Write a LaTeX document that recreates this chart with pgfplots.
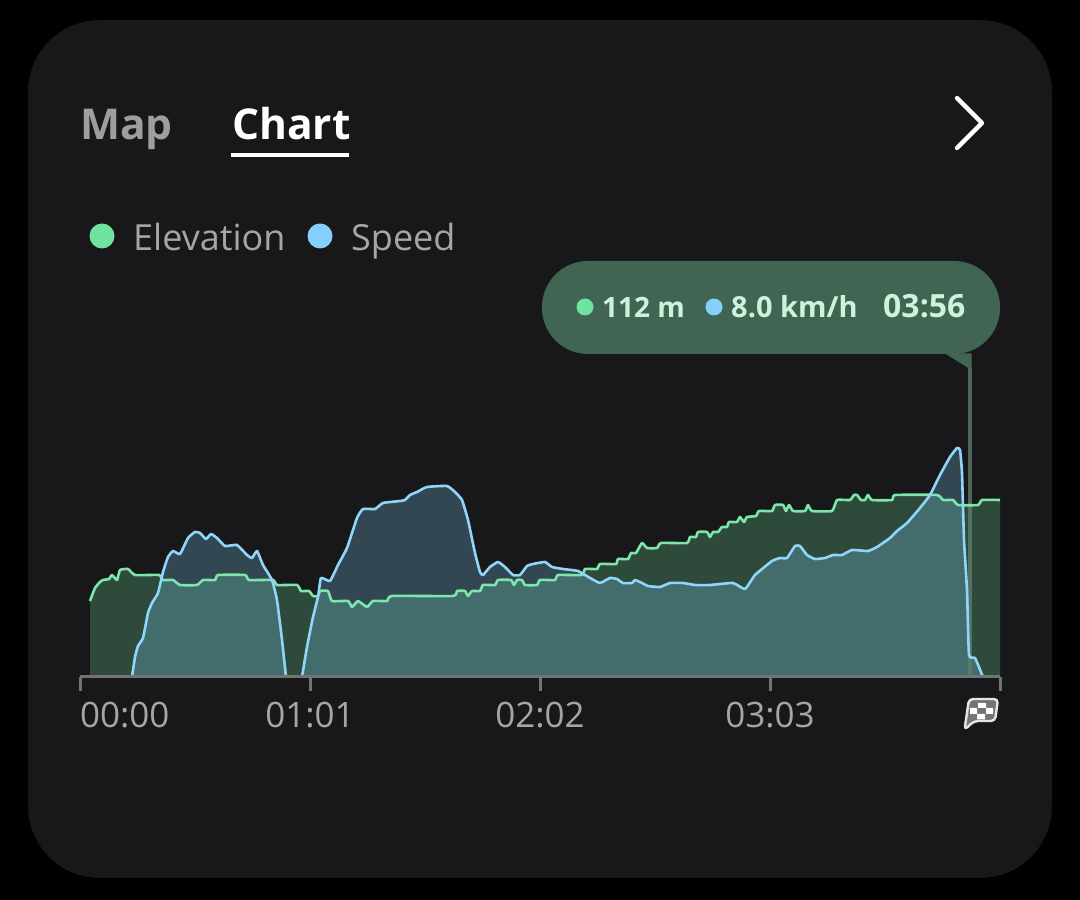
\documentclass[border=0pt]{standalone}
\usepackage{pgfplots}
\usepackage{pgfplotstable}
\usepackage{fontspec}
\pgfplotsset{compat=1.18}
\setmainfont{Open Sans}
\definecolor{bgout}{HTML}{000000}
\definecolor{card}{HTML}{18181A}
\definecolor{elev}{HTML}{6FE3A0}
\definecolor{spd}{HTML}{84D0FA}
\definecolor{tipc}{HTML}{416453}
\definecolor{tiptext}{HTML}{CDF3DC}
\definecolor{lab}{HTML}{A6A5A8}
\definecolor{axisc}{HTML}{737373}
\pgfplotstableread{
x h
10 76
15 89
20 95
23 97
29 98
32 102
37 97
40 107
48 108
55 102
79 102
83 97
93 97
100 92
117 92
123 97
135 97
138 102
165 102
169 97
193 97
197 92
217 92
221 86
229 86
233 81
238 81
240 86
248 86
252 76
268 76
272 70
278 76
287 70
293 76
307 76
312 81
373 81
377 86
385 86
388 81
392 86
400 86
403 92
415 92
418 97
431 97
434 92
437 97
442 97
445 92
457 92
460 97
475 97
478 102
502 102
505 108
517 108
520 113
536 113
538 118
548 118
551 124
556 124
562 134
567 129
577 129
581 134
607 134
610 140
616 140
618 145
627 145
630 140
633 145
638 145
642 150
647 150
649 155
657 155
660 160
664 155
667 160
676 161
679 166
692 166
695 172
703 172
706 166
709 172
713 166
725 166
728 172
732 166
752 166
757 177
770 177
774 182
777 182
781 177
785 177
788 182
792 177
812 177
815 182
857 182
863 177
873 177
878 172
898 172
902 177
920 177
}\elevtable
\pgfplotstableread{
x h
52 0
55 20
58 31
63 39
68 64
72 74
78 84
83 105
88 120
93 126
100 123
108 139
115 145
120 144
126 138
131 143
137 139
145 131
157 132
167 122
172 119
177 126
183 112
192 97
197 77
202 37
206 0
}\spdA
\pgfplotstableread{
x h
222 0
227 30
233 60
238 80
241 99
250 96
258 112
267 129
277 159
283 168
295 168
303 174
320 176
325 177
330 182
337 185
347 190
367 191
375 185
382 177
388 157
395 124
400 105
403 102
410 110
418 115
425 110
433 102
440 102
447 111
453 113
465 115
472 110
483 108
498 106
510 99
520 94
530 99
537 98
543 94
552 94
555 97
562 94
568 91
580 90
590 94
603 94
615 92
630 92
653 94
665 88
675 102
692 116
700 119
707 119
715 131
720 131
727 122
735 118
745 119
753 122
762 122
772 127
788 126
797 130
810 139
817 146
827 154
840 169
850 182
860 202
870 220
877 229
880 227
882 204
884 137
887 87
889 22
895 19
903 0
}\spdB
\begin{document}
\begin{tikzpicture}[x=1pt,y=1pt,line cap=round]
\fill[bgout] (0,0) rectangle (1080,900);
\fill[card,rounded corners=72pt] (28,22) rectangle (1052,880);
\begin{axis}[
  at={(80pt,223pt)},anchor=origin,
  scale only axis,width=920pt,height=300pt,
  xmin=0,xmax=920,ymin=0,ymax=300,
  axis x line=bottom,axis y line=none,
  axis line style={axisc,line width=3pt,-},
  axis on top,
  clip=false,
  xtick={0,230,460,690,920},
  xticklabels={\makebox[0pt][l]{00:00},01:01,02:02,03:03,{}},
  major tick style={axisc,line width=3pt},
  tick align=outside,
  major tick length=14pt,
  xticklabel style={font=\fontsize{35}{38}\selectfont,text=lab,yshift=-8pt},
]
\addplot[draw=none,fill=elev,fill opacity=.25] table[x=x,y=h]{\elevtable} \closedcycle;
\addplot[draw=none,fill=spd,fill opacity=.26] table[x=x,y=h]{\spdA} \closedcycle;
\addplot[draw=none,fill=spd,fill opacity=.26] table[x=x,y=h]{\spdB} \closedcycle;
\addplot[tipc!85!white,line width=3.2pt,line cap=butt,opacity=.8] coordinates {(890,1) (890,310)};
\addplot[elev!90!white,line width=2.6pt,line join=round,smooth,tension=.25] table[x=x,y=h]{\elevtable};
\addplot[spd!90!white,line width=2.6pt,line join=round,smooth,tension=.25] table[x=x,y=h]{\spdA};
\addplot[spd!90!white,line width=2.6pt,line join=round,smooth,tension=.25] table[x=x,y=h]{\spdB};
\end{axis}
% tabs
\node[anchor=base west,inner sep=0,text=lab!95!black,font=\fontsize{42.5}{46}\selectfont\bfseries] at (80,760) {Map};
\node[anchor=base west,inner sep=0,text=white,font=\fontsize{42.5}{46}\selectfont\bfseries] at (232,760) {Chart};
\fill[white] (231,743) rectangle (349,747);
\draw[white,line width=4.3pt,line join=round] (957,802) -- (982,777) -- (957,752);
% legend
\fill[elev] (102,664) circle (12.5);
\node[anchor=base west,inner sep=0,text=lab,font=\fontsize{36}{38}\selectfont] at (133,649) {Elevation};
\fill[spd] (320,664) circle (12.5);
\node[anchor=base west,inner sep=0,text=lab,font=\fontsize{36}{38}\selectfont] at (351,649) {Speed};
% tooltip
\fill[tipc] (945,546.5) -- (971.5,530) -- (971.5,546.5) -- cycle;
\fill[tipc,rounded corners=46pt] (542,546) rectangle (1000,639);
\fill[elev] (585,593) circle (8.5);
\node[anchor=base west,inner sep=0,text=tiptext,font=\fontsize{28}{32}\selectfont\bfseries] at (602,582) {112 m};
\fill[spd] (714,593) circle (8.5);
\node[anchor=base west,inner sep=0,text=tiptext,font=\fontsize{29}{32}\selectfont\bfseries] at (731,582) {8.0 km/h};
\node[anchor=base west,inner sep=0,text=tiptext,font=\fontsize{32}{32}\selectfont\bfseries] at (883,582) {03:56};
% finish flag
\filldraw[fill=lab!70!black,draw=white!90!black,line width=2.4pt,rounded corners=4pt,line join=round] (969,201) -- (998,201) -- (995,179) -- (974,179) -- (964.5,170) -- cycle;
\fill[white] (978,197) rectangle (986,192) (970,192) rectangle (977,186) (986,192) rectangle (993,186) (977,186) rectangle (985,180.5);
\end{tikzpicture}
\end{document}
